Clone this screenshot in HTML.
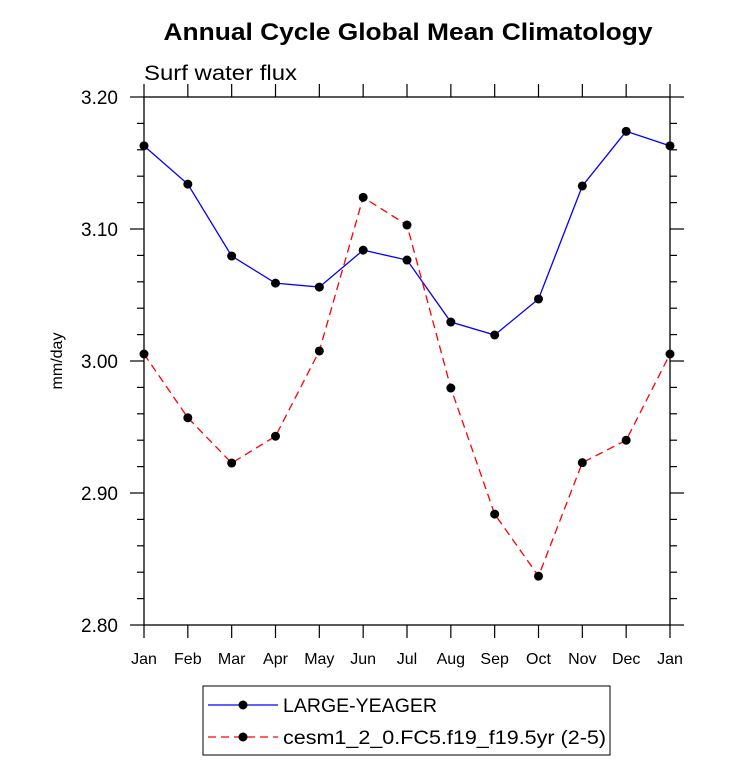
<!DOCTYPE html>
<html><head><meta charset="utf-8"><style>
body{margin:0;background:#fff;}
svg text{font-family:"Liberation Sans",Arial,sans-serif;}
</style></head><body>
<svg id="chart" width="733" height="777" viewBox="0 0 733 777" xmlns="http://www.w3.org/2000/svg">
<text x="408" y="40" text-anchor="middle" font-size="24" font-weight="bold" textLength="489" lengthAdjust="spacingAndGlyphs">Annual Cycle Global Mean Climatology</text>
<text x="144" y="80" font-size="21" textLength="153" lengthAdjust="spacingAndGlyphs">Surf water flux</text>
<text transform="translate(62,361) rotate(-90)" text-anchor="middle" font-size="16">mm/day</text>
<g id="axes"></g>
<g id="series"></g>
<g>
<rect x="203" y="686" width="407" height="69" fill="none" stroke="#000" stroke-width="1"/>
<g>
<line x1="208" y1="705" x2="278" y2="705" stroke="#0000ff" stroke-width="1.3"/>
<circle cx="243" cy="705" r="4.5" fill="#000"/>
<text x="283" y="712" font-size="19" textLength="154" lengthAdjust="spacingAndGlyphs">LARGE-YEAGER</text></g>
<g>
<line x1="208" y1="737" x2="278" y2="737" stroke="#ff0000" stroke-width="1.3" stroke-dasharray="8,5"/>
<circle cx="243" cy="737" r="4.5" fill="#000"/>
<text x="283" y="744" font-size="19" textLength="323" lengthAdjust="spacingAndGlyphs">cesm1_2_0.FC5.f19_f19.5yr (2-5)</text></g>
</g>
</svg>
<script>
const months=["Jan","Feb","Mar","Apr","May","Jun","Jul","Aug","Sep","Oct","Nov","Dec","Jan"];
const largeYeager=[3.163,3.134,3.0795,3.059,3.056,3.084,3.0765,3.0295,3.0197,3.047,3.1326,3.174,3.163];
const cesm=[3.0053,2.957,2.9227,2.943,3.0076,3.124,3.103,2.9795,2.884,2.837,2.923,2.940,3.0053];
const yTicks=[2.80,2.90,3.00,3.10,3.20];
const yTickLabels=["2.80","2.90","3.00","3.10","3.20"];
const X0=144,X1=670,Y0=625,Y1=97,ymin=2.8,ymax=3.2;
const xs=i=>X0+(X1-X0)*i/(months.length-1);
const ys=v=>Y0-(v-ymin)/(ymax-ymin)*(Y0-Y1);
const NS="http://www.w3.org/2000/svg";
function mk(tag,at,parent){const e=document.createElementNS(NS,tag);for(const k in at)e.setAttribute(k,at[k]);parent.appendChild(e);return e;}
const ax=document.getElementById('axes');
const frame=mk('rect',{x:X0,y:Y1,width:X1-X0,height:Y0-Y1,fill:'none',stroke:'#000','stroke-width':1.3},ax);


months.forEach((m,i)=>{const x=xs(i);
 mk('line',{x1:x,y1:Y0,x2:x,y2:Y0+13,stroke:'#000','stroke-width':1.2},ax);
 mk('line',{x1:x,y1:Y1,x2:x,y2:Y1-13,stroke:'#000','stroke-width':1.2},ax);
 const t=mk('text',{x:x,y:Y0+39,'text-anchor':'middle','font-size':16},ax);t.textContent=m;
 
 
});
for(let k=0;k<=20;k++){const v=ymin+k*0.02;const y=ys(v);const maj=k%5===0;const L=maj?14:7;
 mk('line',{x1:X0-L,y1:y,x2:X0,y2:y,stroke:'#000','stroke-width':1.2},ax);
 mk('line',{x1:X1,y1:y,x2:X1+L,y2:y,stroke:'#000','stroke-width':1.2},ax);}
yTicks.forEach((v,i)=>{const t=mk('text',{x:X0-26,y:ys(v)+7,'text-anchor':'end','font-size':19},ax);t.textContent=yTickLabels[i];
 
 });
const sg=document.getElementById('series');
function draw(data,color,dash,name){
 const p=mk('polyline',{points:data.map((v,i)=>xs(i)+','+ys(v)).join(' '),fill:'none',stroke:color,'stroke-width':1.3,'stroke-dasharray':dash},sg);
 
 
 data.forEach((v,i)=>{const c=mk('circle',{cx:xs(i),cy:ys(v),r:4.5,fill:'#000'},sg);
  
  });
}
draw(largeYeager,'#0000ff','none','large-yeager');
draw(cesm,'#ff0000','8,5','cesm');
</script>
</body></html>
